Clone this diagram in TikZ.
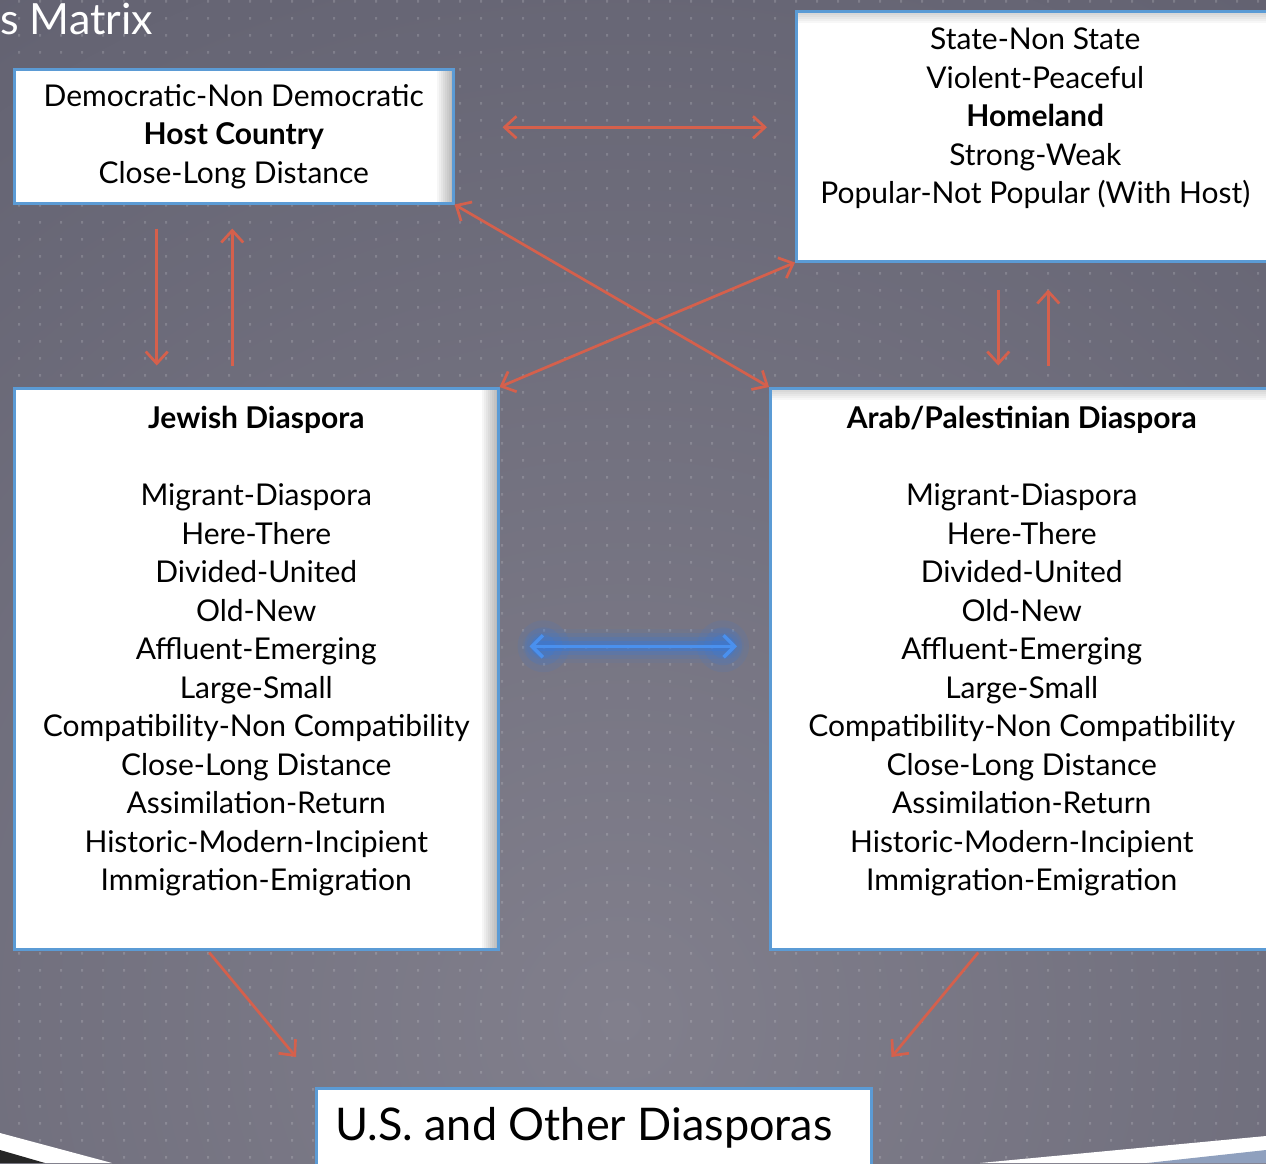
\documentclass[tikz,border=0pt]{standalone}
\usepackage{fontspec}
\setmainfont{Lato}
\usetikzlibrary{positioning,arrows.meta}
\definecolor{bgdark}{HTML}{4A4A5B}
\definecolor{bglight}{HTML}{817F8C}
\definecolor{panelblue}{HTML}{5B9BD5}
\definecolor{linkred}{HTML}{D5604C}
\definecolor{glowblue}{HTML}{2F7BE8}
\definecolor{arrowblue}{HTML}{4A90EE}
\definecolor{stripblue}{HTML}{8FA0BE}

\begin{document}
\begin{tikzpicture}[x=1pt, y=-1pt,
    panel/.style={draw=panelblue, line width=2.5pt, fill=white, inner sep=0pt, anchor=north west},
    rshadow/.style={path picture={\foreach \k in {1,...,8}
        \fill[black, opacity=0.035] ([xshift=-2*\k pt]path picture bounding box.north east) rectangle (path picture bounding box.south east);}},
    tshadow/.style={path picture={\foreach \k in {1,...,6}
        \fill[black, opacity=0.03] (path picture bounding box.north west) rectangle ([yshift=-2*\k pt]path picture bounding box.north east);}},
    txt/.style={align=center, inner sep=0pt, font=\fontsize{30}{38.5}\selectfont},
    link/.style={draw=linkred, line width=2.7pt, -{Straight Barb[length=12pt,width=22pt]}},
    duallink/.style={link, {Straight Barb[length=12pt,width=22pt]}-{Straight Barb[length=12pt,width=22pt]}}]

    % --- 背景 ---
    \clip (0,0) rectangle (1266,1163);
    \useasboundingbox (0,0) rectangle (1266,1163);
    \shade[inner color=bglight, outer color=bgdark] (620,1020) circle (2200);
    % 点阵
    \fill[white, opacity=0.16] \foreach \i in {0,...,60} {\foreach \j in {0,...,68} {(18+21*\i, 17*\j) rectangle ++(2,2.5)}};
    % 底部装饰条
    \fill[white] (0,1133) -- (112,1163) -- (0,1163) -- cycle;
    \fill[black!85] (0,1150) -- (45,1163) -- (0,1163) -- cycle;
    \fill[white] (980,1163) -- (1266,1136) -- (1266,1163) -- cycle;
    \fill[stripblue] (1147,1163) -- (1266,1150) -- (1266,1163) -- cycle;

    % --- 标题 ---
    \node[anchor=base west, inner sep=0pt, text=white, font=\fontsize{43}{43}\selectfont] (title) at (0,34) {s Matrix};

    % --- 方框 ---
    \node[panel, rshadow, txt, minimum width=439, minimum height=134] (host) at (13,68)
        {Democratic-Non Democratic\\ \textbf{Host Country}\\ Close-Long Distance};
    \node[panel, tshadow, minimum width=478, minimum height=250] (homeland) at (795,10) {};
    \node[txt, below=18pt of homeland.north] (homelandtxt)
        {State-Non State\\ Violent-Peaceful\\ \textbf{Homeland}\\ Strong-Weak\\ Popular-Not Popular (With Host)};
    \node[panel, rshadow, minimum width=484, minimum height=561] (jewish) at (13,387) {};
    \node[txt, below=19pt of jewish.north] (jewishtxt)
        {\textbf{Jewish Diaspora}\\[38.5pt] Migrant-Diaspora\\ Here-There\\ Divided-United\\ Old-New\\ Affluent-Emerging\\ Large-Small\\ Compatibility-Non Compatibility\\ Close-Long Distance\\ Assimilation-Return\\ Historic-Modern-Incipient\\ Immigration-Emigration};
    \node[panel, tshadow, minimum width=503, minimum height=561] (arab) at (769,387) {};
    \node[txt, below=19pt of arab.north] (arabtxt)
        {\textbf{Arab/Palestinian Diaspora}\\[38.5pt] Migrant-Diaspora\\ Here-There\\ Divided-United\\ Old-New\\ Affluent-Emerging\\ Large-Small\\ Compatibility-Non Compatibility\\ Close-Long Distance\\ Assimilation-Return\\ Historic-Modern-Incipient\\ Immigration-Emigration};
    \node[panel, minimum width=555, minimum height=100] (us) at (315,1087) {};
    \node[anchor=west, inner sep=0pt, font=\fontsize{45}{45}\selectfont] (ustxt) at ([xshift=20pt,yshift=-41pt]us.north west) {U.S. and Other Diasporas};

    % --- 红色箭头 ---
    \draw[duallink] ([xshift=48pt,yshift=9pt]host.east) -- ([xshift=-28pt,yshift=9pt]homeland.west);
    \draw[link] ([xshift=-77pt,yshift=-24pt]host.south) -- ++(0,137);
    \draw[link] ([xshift=-1.5pt,yshift=-161pt]host.south) -- ++(0,-137);
    \draw[link] ([xshift=-37pt,yshift=-27pt]homeland.south) -- ++(0,76);
    \draw[link] ([xshift=13pt,yshift=-103pt]homeland.south) -- ++(0,-76);
    % 交叉
    \draw[duallink] (host.south east) -- (arab.north west);
    \draw[duallink] (jewish.north east) -- (homeland.south west);
    % 指向 U.S.
    \draw[link] ([xshift=-47pt,yshift=-2pt]jewish.south) -- ([xshift=-19pt,yshift=30pt]us.north west);
    \draw[link] ([xshift=-43.5pt,yshift=-2pt]arab.south) -- ([xshift=19pt,yshift=30pt]us.north east);

    % --- 蓝色双箭头 (带光晕) ---
    \foreach \w/\o in {34/0.08, 26/0.12, 18/0.18, 10/0.3}
        \draw[glowblue, line width=\w pt, opacity=\o, line cap=round] ([xshift=40pt,yshift=22.5pt]jewish.east) -- ([xshift=-42pt,yshift=22.5pt]arab.west);
    \foreach \r/\o in {26/0.1, 19/0.14, 12/0.2}
        \fill[glowblue, opacity=\o] ([xshift=44pt,yshift=22.5pt]jewish.east) circle (\r) ([xshift=-46pt,yshift=22.5pt]arab.west) circle (\r);
    \draw[arrowblue, line width=3.5pt, {Straight Barb[length=11pt,width=22pt]}-{Straight Barb[length=11pt,width=22pt]}]
        ([xshift=30pt,yshift=22.5pt]jewish.east) -- ([xshift=-32pt,yshift=22.5pt]arab.west);

\end{tikzpicture}
\end{document}
